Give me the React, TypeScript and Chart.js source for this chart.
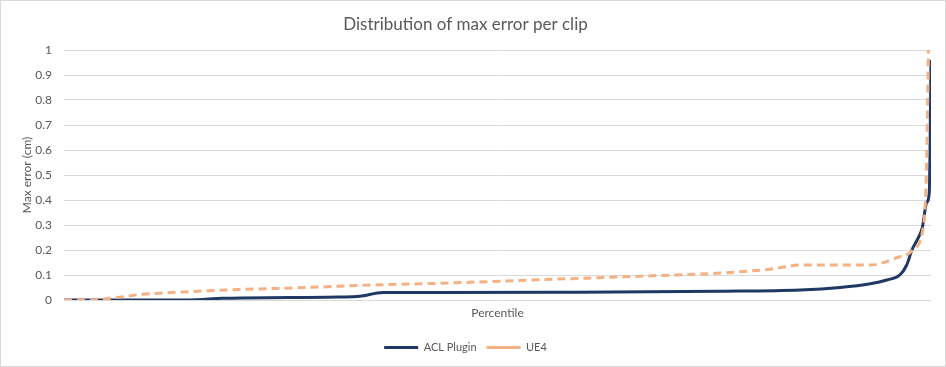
import React, { useEffect, useRef } from "react";
import { Chart, registerables } from "chart.js";

Chart.register(...registerables);

const TITLE = "Distribution of max error per clip";
const Y_TITLE = "Max error (cm)";
const X_TITLE = "Percentile";
const SERIES_NAMES = ["ACL Plugin", "UE4"];

// percentile positions and values
const aclPercentiles = [0, 14.5, 18.3, 26, 31.8, 34.1, 36.8, 43.4, 56.4, 75.7, 84.9, 89.5, 93, 94.9, 96.4, 97.2, 97.8, 98.4, 99, 99.5, 99.8, 100];
const aclValues = [0, 0, 0.007, 0.01, 0.012, 0.015, 0.03, 0.03, 0.031, 0.035, 0.04, 0.05, 0.065, 0.08, 0.1, 0.14, 0.2, 0.24, 0.29, 0.39, 0.43, 0.96];

const ue4Percentiles = [0, 3, 6.1, 8.8, 13.7, 20.3, 28, 35.6, 43.4, 56.4, 67.9, 75.7, 81.4, 85.2, 93, 96.1, 97.9, 99, 99.3, 99.5, 99.7];
const ue4Values = [0, 0, 0.01, 0.022, 0.032, 0.042, 0.05, 0.06, 0.067, 0.083, 0.097, 0.108, 0.123, 0.14, 0.14, 0.17, 0.2, 0.27, 0.36, 0.55, 1.0];

const toPoints = (xs: number[], ys: number[]) => xs.map((x, i) => ({ x, y: ys[i] }));

const FONT = "Lato";
const TEXT = "#595959";

export default function App() {
  const ref = useRef<HTMLCanvasElement | null>(null);
  useEffect(() => {
    if (!ref.current) return;
    const chart = new Chart(ref.current, {
      type: "line",
      data: {
        datasets: [
          {
            label: SERIES_NAMES[0],
            data: toPoints(aclPercentiles, aclValues),
            borderColor: "#1f3864",
            backgroundColor: "#1f3864",
            borderWidth: 3,
            pointRadius: 0,
            cubicInterpolationMode: "monotone",
            order: 1,
          },
          {
            label: SERIES_NAMES[1],
            data: toPoints(ue4Percentiles, ue4Values),
            borderColor: "#f4b183",
            backgroundColor: "#f4b183",
            borderWidth: 3,
            borderDash: [8, 5],
            pointRadius: 0,
            cubicInterpolationMode: "monotone",
            order: 0,
          },
        ],
      },
      options: {
        animation: false,
        responsive: false,
        maintainAspectRatio: false,
        layout: { padding: { left: 0, right: 15, top: 0, bottom: 4 } },
        plugins: {
          title: {
            display: true,
            text: TITLE,
            color: TEXT,
            font: { family: FONT, size: 17, weight: "normal" },
            padding: { top: 14.6, bottom: 15 },
          },
          legend: {
            position: "bottom",
            labels: {
              usePointStyle: true,
              pointStyle: "line",
              pointStyleWidth: 34,
              color: TEXT,
              font: { family: FONT, size: 11 },
              padding: 10,
              sort: (a: any, b: any) => a.datasetIndex - b.datasetIndex,
            },
          },
          tooltip: { enabled: false },
        },
        scales: {
          x: {
            type: "linear",
            min: 0,
            max: 100,
            grid: { display: false },
            border: { display: false },
            ticks: { display: false },
            title: {
              display: true,
              text: X_TITLE,
              color: TEXT,
              font: { family: FONT, size: 12 },
              padding: { top: 0, bottom: 12 },
            },
            afterFit: (s: any) => {
              s.height = 32;
            },
          },
          y: {
            min: 0,
            max: 1,
            ticks: {
              stepSize: 0.1,
              color: TEXT,
              font: { family: FONT, size: 12 },
              padding: 12,
              callback: (v: any) => String(Math.round(Number(v) * 10) / 10),
            },
            grid: { color: "#d9d9d9", lineWidth: 1, drawTicks: false },
            border: { display: false },
            title: {
              display: true,
              text: Y_TITLE,
              color: TEXT,
              font: { family: FONT, size: 12 },
              padding: { top: 20, bottom: 0 },
            },
            afterFit: (s: any) => {
              s.width = 64;
            },
          },
        },
      },
    });
    return () => chart.destroy();
  }, []);

  return (
    <div style={{ position: "fixed", left: 0, top: 0, width: 946, height: 367, background: "#fff" }}>
      <canvas ref={ref} width={946} height={367} style={{ position: "absolute", left: 0, top: 0 }} />
      <div
        style={{
          position: "absolute",
          left: 0,
          top: 0,
          width: 946,
          height: 367,
          boxSizing: "border-box",
          border: "1px solid #d9d9d9",
          pointerEvents: "none",
        }}
      />
    </div>
  );
}
